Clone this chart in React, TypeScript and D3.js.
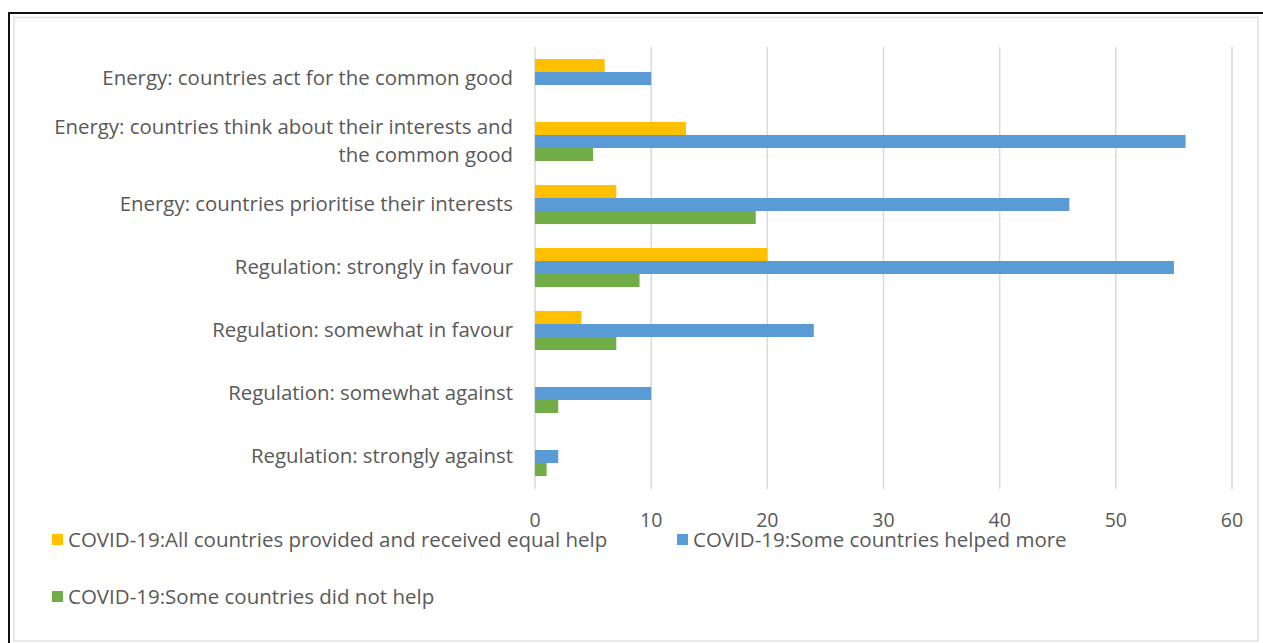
import React from "react";
import * as d3 from "d3";

const categories = [
  "Energy: countries act for the common good",
  "Energy: countries think about their interests and the common good",
  "Energy: countries prioritise their interests",
  "Regulation: strongly in favour",
  "Regulation: somewhat in favour",
  "Regulation: somewhat against",
  "Regulation: strongly against",
];
const categoryLines = [
  ["Energy: countries act for the common good"],
  ["Energy: countries think about their interests and", "the common good"],
  ["Energy: countries prioritise their interests"],
  ["Regulation: strongly in favour"],
  ["Regulation: somewhat in favour"],
  ["Regulation: somewhat against"],
  ["Regulation: strongly against"],
];
const seriesNames = [
  "COVID-19:All countries provided and received equal help",
  "COVID-19:Some countries helped more",
  "COVID-19:Some countries did not help",
];
const equalHelp = [6, 13, 7, 20, 4, 0, 0];
const helpedMore = [10, 56, 46, 55, 24, 10, 2];
const didNotHelp = [0, 5, 19, 9, 7, 2, 1];
const xTicks = [0, 10, 20, 30, 40, 50, 60];
const colors = ["#FFC000", "#5B9BD5", "#70AD47"];

const FONT = "'Open Sans', Lato, sans-serif";
const TEXT = "#595959";

export default function App() {
  const series = [equalHelp, helpedMore, didNotHelp];
  const x = d3.scaleLinear().domain([0, 60]).range([535, 1232]);
  const y = d3.scaleBand<string>().domain(categories).range([47, 488]).paddingInner(0.38).paddingOuter(0.19);
  const sub = d3.scaleBand<number>().domain([0, 1, 2]).range([0, y.bandwidth()]);

  return (
    <svg width={1263} height={643} style={{ position: "absolute", left: 0, top: 0, background: "#fff" }} fontFamily={FONT}>
      <rect x={14} y={17.5} width={1244} height={623.5} fill="#fff" stroke="#e0e0e0" strokeWidth={1.5} />
      <line x1={8} y1={13} x2={1263} y2={13} stroke="#111" strokeWidth={2} />
      <line x1={9} y1={12} x2={9} y2={643} stroke="#111" strokeWidth={2} />
      {xTicks.map((t) => (
        <g key={t}>
          <line x1={x(t)} x2={x(t)} y1={47} y2={489} stroke="#d9d9d9" strokeWidth={1.5} />
          <text x={x(t)} y={527} textAnchor="middle" fontSize={19.5} fill={TEXT}>{t}</text>
        </g>
      ))}
      {categories.map((c, i) => {
        const y0 = y(c)!;
        const cy = y0 + y.bandwidth() / 2;
        const lines = categoryLines[i];
        return (
          <g key={c}>
            {series.map((s, k) => (
              <rect key={k} x={x(0)} y={y0 + sub(k)!} width={x(s[i]) - x(0)} height={sub.bandwidth()} fill={colors[k]} />
            ))}
            {lines.map((ln, j) => (
              <text key={j} x={513} y={cy + 6.5 + (j - (lines.length - 1) / 2) * 28} textAnchor="end" fontSize={20.4} fill={TEXT}>{ln}</text>
            ))}
          </g>
        );
      })}
      {[
        { k: 0, lx: 52, ly: 540 },
        { k: 1, lx: 677, ly: 540 },
        { k: 2, lx: 52, ly: 597 },
      ].map(({ k, lx, ly }) => (
        <g key={k}>
          <rect x={lx} y={ly - 6} width={11} height={11} fill={colors[k]} />
          <text x={lx + 16} y={ly + 7} fontSize={20.5} fill={TEXT}>{seriesNames[k]}</text>
        </g>
      ))}
    </svg>
  );
}
